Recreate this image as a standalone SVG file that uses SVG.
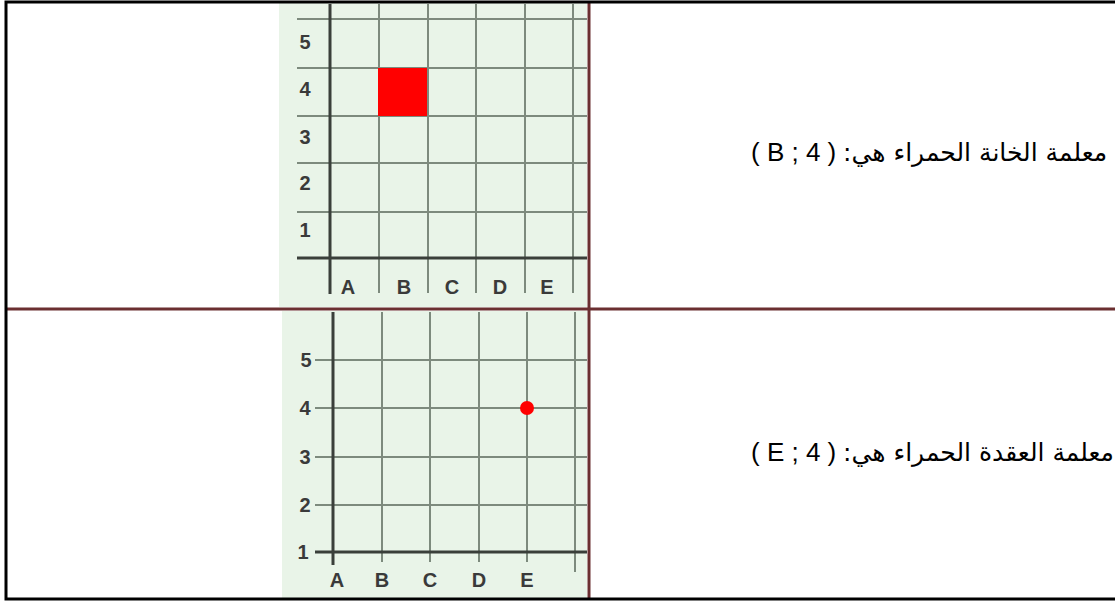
<svg xmlns="http://www.w3.org/2000/svg" width="1115" height="601" viewBox="0 0 1115 601">
<style>
.bg{fill:#e9f4e8}
.grid{stroke:#7d8a7d;stroke-width:2;fill:none}
.axis{stroke:#3a3f3a;stroke-width:3;fill:none}
.lbl{font-family:"Liberation Sans",Arial,sans-serif;font-weight:bold;font-size:20px;fill:#3a3a3a;text-anchor:middle}
.txt{font-family:"Liberation Sans","DejaVu Sans",sans-serif;font-size:26px;fill:#000}
.ar{font-family:"DejaVu Sans","Liberation Sans",sans-serif;font-size:25px;fill:#000}
.border{stroke:#000;stroke-width:3;fill:none}
.div{stroke:#6b2f31;stroke-width:3;fill:none}
</style>
<rect width="1115" height="601" fill="#fff"/>
<g id="grid-square">
<rect class="bg" x="279" y="3" width="308" height="304"/>
<g class="grid">
<path d="M297 19H587M297 68H587M297 116H587M297 163H587M297 212H587"/>
<path d="M379 4V293M428 4V293M476 4V293M525 4V293M573 4V293"/>
</g>
<rect x="378" y="68" width="49" height="48" fill="#ff0000"/>
<g class="axis">
<path d="M330 4V294"/>
<path d="M297 258H587"/>
</g>
<text class="lbl" x="305" y="49">5</text>
<text class="lbl" x="305" y="96">4</text>
<text class="lbl" x="305" y="144">3</text>
<text class="lbl" x="305" y="190">2</text>
<text class="lbl" x="305" y="237">1</text>
<text class="lbl" x="348" y="294">A</text>
<text class="lbl" x="404" y="294">B</text>
<text class="lbl" x="452" y="294">C</text>
<text class="lbl" x="500" y="294">D</text>
<text class="lbl" x="547" y="294">E</text>
</g>
<g id="grid-node">
<rect class="bg" x="282" y="311" width="305" height="287"/>
<g class="grid">
<path d="M315 360H587M315 408H587M315 457H587M315 505H587"/>
<path d="M382 312V562M430 312V562M479 312V562M527 312V562M575 312V572"/>
</g>
<g class="axis">
<path d="M333 312V565"/>
<path d="M315 552H587"/>
</g>
<circle cx="527" cy="408" r="7" fill="#ff0000"/>
<text class="lbl" x="306" y="367">5</text>
<text class="lbl" x="305" y="415">4</text>
<text class="lbl" x="305" y="464">3</text>
<text class="lbl" x="305" y="512">2</text>
<text class="lbl" x="303" y="559">1</text>
<text class="lbl" x="337" y="587">A</text>
<text class="lbl" x="382" y="587">B</text>
<text class="lbl" x="430" y="587">C</text>
<text class="lbl" x="479" y="587">D</text>
<text class="lbl" x="527" y="587">E</text>
</g>
<g id="text-square">
<text class="txt" x="751" y="161">( B ; 4 )</text>
<text class="ar" x="843" y="161" direction="rtl" text-anchor="end">معلمة الخانة الحمراء هي:</text>
</g>
<g id="text-node">
<text class="txt" x="751" y="461">( E ; 4 )</text>
<text class="ar" x="843" y="461" direction="rtl" text-anchor="end">معلمة العقدة الحمراء هي:</text>
</g>
<g id="table">
<path class="div" d="M589 3V598M7 309H1115"/>
<path class="border" d="M1115 2H6V599H1115"/>
</g>
</svg>
